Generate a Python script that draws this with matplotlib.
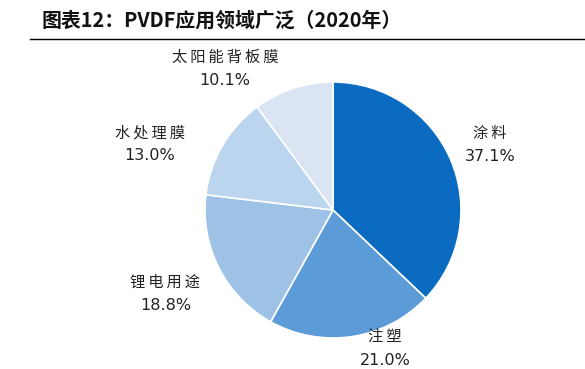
import matplotlib
matplotlib.use("Agg")
import matplotlib.pyplot as plt
from matplotlib.lines import Line2D

plt.rcParams['font.family'] = ['Noto Sans CJK SC', 'DejaVu Sans']

categories = ["涂料", "注塑", "锂电用途", "水处理膜", "太阳能背板膜"]
values = [37.1, 21.0, 18.8, 13.0, 10.1]
colors = ["#0A6BC1", "#5B9BD8", "#9EC2E6", "#BCD5EE", "#DAE4F3"]
# label anchor positions (pie radius units)
label_pos = [(1.227, 0.51), (0.406, -1.085), (-1.31, -0.656), (-1.43, 0.515), (-0.844, 1.10)]

W, H = 585, 369
fig = plt.figure(figsize=(W / 100, H / 100), dpi=100)
fig.patch.set_facecolor("white")

cx, cy, r = 333, 210, 128
ax = fig.add_axes([(cx - r) / W, (H - cy - r) / H, 2 * r / W, 2 * r / H])
ax.pie(values, colors=colors, startangle=90, counterclock=False,
       wedgeprops=dict(edgecolor="white", linewidth=1.2), radius=1)
ax.set_xlim(-1, 1)
ax.set_ylim(-1, 1)
ax.set_aspect("equal")
ax.axis("off")

off = 11.5 / r
for cat, v, (x, y) in zip(categories, values, label_pos):
    ax.text(x, y + off, "\u2009".join(cat), ha="center", va="center", fontsize=11,
            family=['Noto Sans CJK SC', 'DejaVu Sans'], color="#222222", clip_on=False)
    ax.text(x, y - off, f"{v:.1f}%", ha="center", va="center", fontsize=11.5,
            family=['DejaVu Sans'], color="#222222", clip_on=False)

fig.text(42 / W, 1 - 20 / H, "图表12：PVDF应用领域广泛（2020年）", ha="left", va="center",
         fontsize=14.3, fontweight="bold", color="#111111")
fig.add_artist(Line2D([30 / W, 1.0], [1 - 39 / H, 1 - 39 / H], color="black", linewidth=1.0,
                      transform=fig.transFigure))

fig.savefig("out.png", dpi=100, facecolor="white")
